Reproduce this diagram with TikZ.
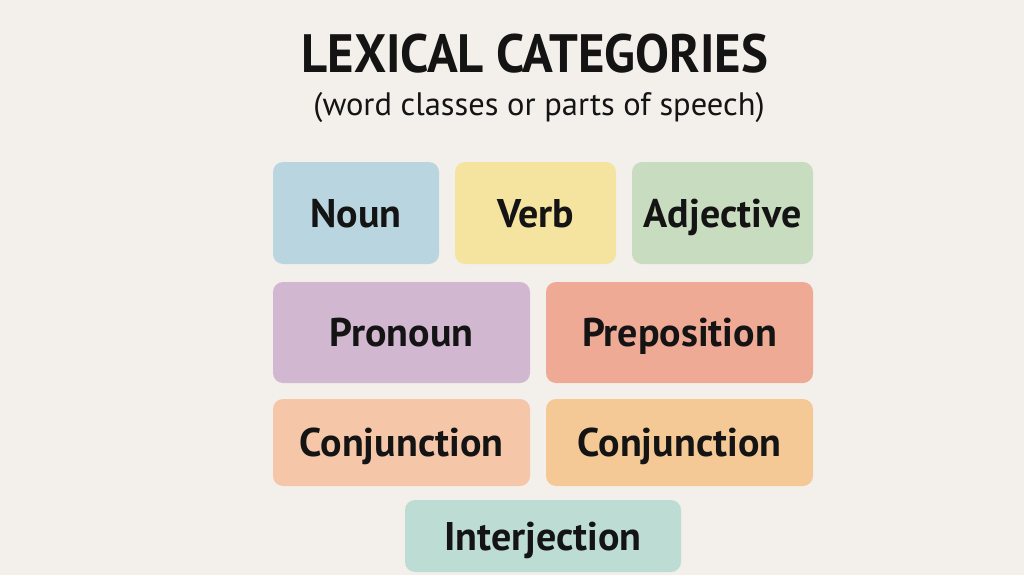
\documentclass[tikz,border=0pt]{standalone}
\usepackage{fontspec}
\setmainfont{PT Sans}
\definecolor{bg}{HTML}{F3F0EC}
\definecolor{cnoun}{HTML}{B9D5E0}
\definecolor{cverb}{HTML}{F5E3A0}
\definecolor{cadj}{HTML}{C8DDC0}
\definecolor{cpron}{HTML}{D1B8D0}
\definecolor{cprep}{HTML}{EFAA96}
\definecolor{cconja}{HTML}{F5C6A8}
\definecolor{cconjb}{HTML}{F5C996}
\definecolor{cinter}{HTML}{BCDCD4}
\definecolor{ink}{HTML}{141414}
\begin{document}
\begin{tikzpicture}[x=1pt,y=-1pt,
  cat/.style={rounded corners=10pt, inner sep=0pt, text depth=0pt, text height=28pt,
    font=\fontsize{40}{40}\selectfont\bfseries, text=ink},
  ttl/.style={inner sep=0pt, text depth=0pt, text=ink}]
\fill[bg] (0,0) rectangle (1024,575);
\useasboundingbox (0,0) rectangle (1024,575);
\node[ttl, text height=38pt, font=\fontsize{54}{54}\selectfont\bfseries] (title) at (535,54) {\scalebox{0.94}[1]{LEXICAL CATEGORIES}};
\node[ttl, text height=22pt, font=\fontsize{32.5}{32.5}\selectfont] (sub) at (539,104) {(word classes or parts of speech)};
\node[cat, fill=cnoun, minimum width=166pt, minimum height=102pt] (noun) at (356,213) {Noun};
\node[cat, fill=cverb, minimum width=161pt, minimum height=102pt] (verb) at (535.5,213) {Verb};
\node[cat, fill=cadj, minimum width=181pt, minimum height=102pt] (adj) at (722.5,213) {Adjective};
\node[cat, fill=cpron, minimum width=257pt, minimum height=101pt] (pron) at (401.5,332.5) {Pronoun};
\node[cat, fill=cprep, minimum width=267pt, minimum height=101pt] (prep) at (679.5,332.5) {Preposition};
\node[cat, fill=cconja, minimum width=257pt, minimum height=87pt] (conja) at (401.5,442.5) {Conjunction};
\node[cat, fill=cconjb, minimum width=267pt, minimum height=87pt] (conjb) at (679.5,442.5) {Conjunction};
\node[cat, fill=cinter, minimum width=276pt, minimum height=72pt] (inter) at (543,536) {Interjection};
\end{tikzpicture}
\end{document}
